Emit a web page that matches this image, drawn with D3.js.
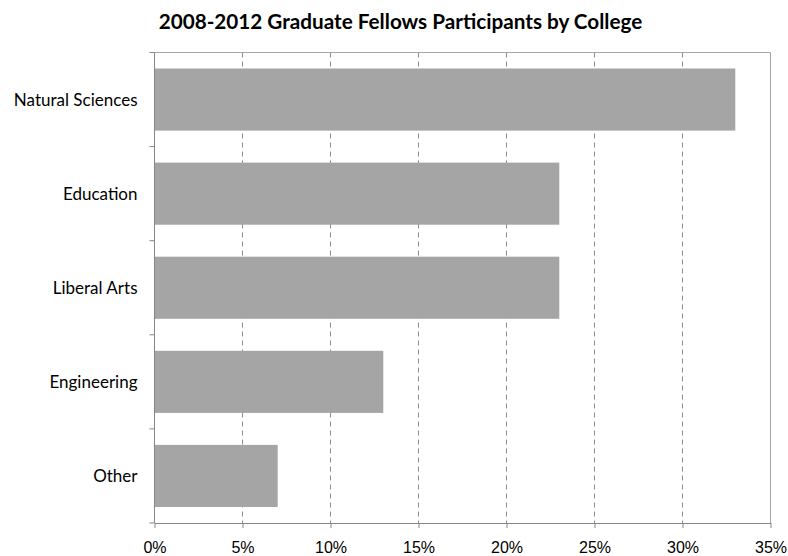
<!DOCTYPE html>
<html>
<head>
<meta charset="utf-8">
<script src="https://cdn.jsdelivr.net/npm/d3@7"></script>
<style>
  html, body { margin: 0; padding: 0; background: #fff; }
  svg { display: block; font-family: Lato, "Open Sans", sans-serif; }
</style>
</head>
<body>
<svg id="chart" width="788" height="556"></svg>
<script>
// Share of 2008-2012 Graduate Fellows participants, by college (percent)
const colleges = ["Natural Sciences", "Education", "Liberal Arts", "Engineering", "Other"];
const shares = [33, 23, 23, 13, 7];
const tickValues = [0, 5, 10, 15, 20, 25, 30, 35];
const chartTitle = "2008-2012 Graduate Fellows Participants by College";

const svg = d3.select("#chart");
const margin = { top: 52.5, right: 17.5, bottom: 33, left: 154.5 };
const width = 788 - margin.left - margin.right;
const height = 556 - margin.top - margin.bottom;

const x = d3.scaleLinear().domain([0, 35]).range([0, width]);
const y = d3.scaleBand().domain(colleges).range([0, height]).paddingInner(0.34).paddingOuter(0.17);

const g = svg.append("g").attr("transform", `translate(${margin.left},${margin.top})`);

// Dashed vertical gridlines
g.append("g")
  .selectAll("line")
  .data(tickValues.filter(t => t > 0 && t < 35))
  .join("line")
  .attr("x1", d => x(d)).attr("x2", d => x(d))
  .attr("y1", 0).attr("y2", height)
  .attr("stroke", "#8c8c8c")
  .attr("stroke-width", 1)
  .attr("stroke-dasharray", "5,4");

// Light frame on top and right
g.append("path")
  .attr("d", `M0,0H${width}V${height}`)
  .attr("fill", "none")
  .attr("stroke", "#a6a6a6")
  .attr("stroke-width", 1);

// Bars
g.append("g")
  .selectAll("rect")
  .data(colleges.map((c, i) => ({ c, v: shares[i] })))
  .join("rect")
  .attr("x", 0)
  .attr("y", d => y(d.c))
  .attr("width", d => x(d.v))
  .attr("height", y.bandwidth())
  .attr("fill", "#a5a5a5");

// Bottom axis
const xAxis = g.append("g")
  .attr("transform", `translate(0,${height})`)
  .call(d3.axisBottom(x).tickValues(tickValues).tickFormat(d => d + "%").tickSizeInner(5).tickSizeOuter(0).tickPadding(14));
xAxis.select(".domain").attr("stroke", "#868686");
xAxis.selectAll(".tick line").attr("stroke", "#868686");
xAxis.selectAll("text").attr("font-size", 16).attr("fill", "#000");

// Left axis with ticks at band boundaries
const leftAxis = g.append("g");
leftAxis.append("line")
  .attr("x1", 0).attr("x2", 0).attr("y1", 0).attr("y2", height)
  .attr("stroke", "#868686");
const bounds = d3.range(colleges.length + 1).map(i => i * height / colleges.length);
leftAxis.selectAll("line.tk")
  .data(bounds)
  .join("line")
  .attr("class", "tk")
  .attr("x1", -5).attr("x2", 0)
  .attr("y1", d => d).attr("y2", d => d)
  .attr("stroke", "#868686");
leftAxis.selectAll("text")
  .data(colleges)
  .join("text")
  .attr("x", -17)
  .attr("y", d => y(d) + y.bandwidth() / 2)
  .attr("dy", "0.35em")
  .attr("text-anchor", "end")
  .attr("font-size", 17)
  .attr("fill", "#000")
  .text(d => d);

// Title
svg.append("text")
  .attr("x", 400.5)
  .attr("y", 29)
  .attr("text-anchor", "middle")
  .attr("font-size", 20.7)
  .attr("font-weight", "bold")
  .attr("fill", "#000")
  .text(chartTitle);
</script>
</body>
</html>
